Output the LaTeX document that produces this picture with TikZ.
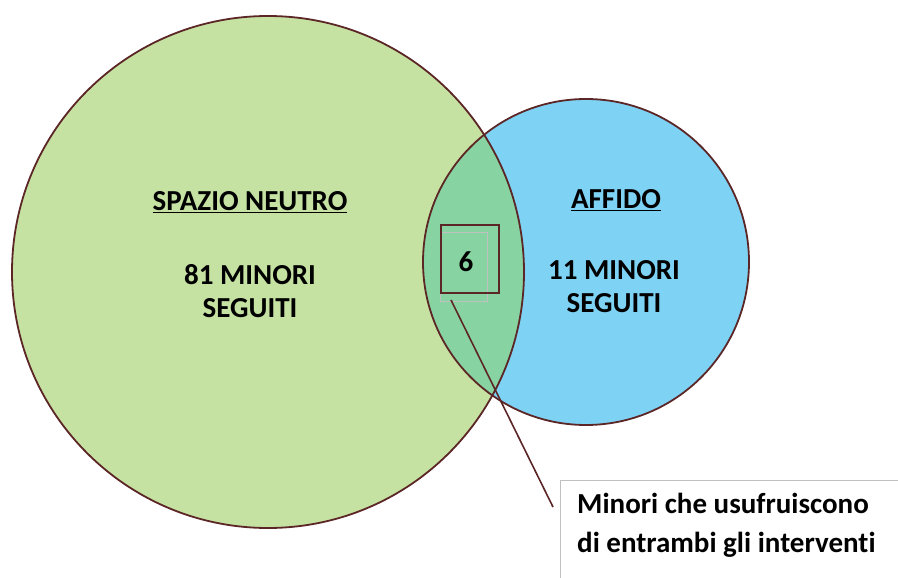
\documentclass[tikz,border=0pt]{standalone}
\usepackage{fontspec}
\setmainfont[Ligatures=NoCommon]{Carlito}
\definecolor{vgreen}{RGB}{198,226,162}
\definecolor{vblue}{RGB}{126,211,245}
\definecolor{vmix}{RGB}{136,211,162}
\definecolor{vline}{RGB}{92,38,38}
\definecolor{vgray}{RGB}{192,192,192}
\tikzset{
  lbl/.style={font=\bfseries\fontsize{29}{33}\selectfont, align=center, text=black, inner sep=0pt},
  setcirc/.style={circle, draw=vline, line width=1.8pt, inner sep=0pt},
}
\begin{document}
\begin{tikzpicture}[x=1pt,y=-1pt]
\useasboundingbox (0,0) rectangle (898,578);
% fills
\fill[vgreen] (268,272) circle (256);
\fill[vblue] (586,262) circle (163);
\begin{scope}
  \clip (268,272) circle (256);
  \fill[vmix] (586,262) circle (163);
\end{scope}
% outlines as named nodes
\node[setcirc, minimum size=512pt] (big) at (268,272) {};
\node[setcirc, minimum size=326pt] (small) at (586,262) {};
% labels
\node[lbl] (t1) at (250,202) {\underline{SPAZIO NEUTRO}};
\node[lbl] (n1) at (250,291) {81 MINORI\\SEGUITI};
\node[lbl] (t2) at (616,200) {\underline{AFFIDO}};
\node[lbl] (n2) at (614,287) {11 MINORI\\SEGUITI};
% small squares
\node[draw=vgray, line width=1.4pt, minimum width=47pt, minimum height=69pt, inner sep=0pt, anchor=north west] (gray) at (440,232) {};
\node[draw=vline, line width=1.8pt, minimum width=58pt, minimum height=68pt, inner sep=0pt, anchor=north west] (sq) at (440,224) {};
\node[lbl] (six) at (466,262) {6};
% callout
\node[draw=vgray, fill=white, line width=1.2pt, minimum width=345pt, minimum height=110pt, inner sep=0pt, anchor=north west] (call) at (560,480) {};
\node[lbl, align=left, anchor=west, font=\bfseries\fontsize{29}{39}\selectfont] (ctext) at (577,525) {Minori che usufruiscono\\di entrambi gli interventi};
\coordinate (ls) at (451,300);
\coordinate (le) at (553,507);
\draw[vline, line width=1.6pt] (ls) -- (le);
\end{tikzpicture}
\end{document}
